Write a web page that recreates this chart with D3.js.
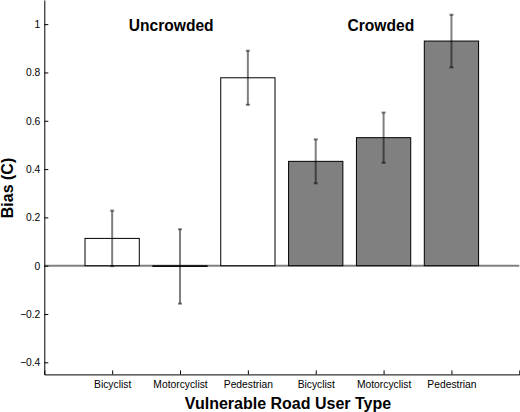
<!DOCTYPE html>
<html>
<head>
<meta charset="utf-8">
<script src="https://cdn.jsdelivr.net/npm/d3@7"></script>
<style>
  html, body { margin: 0; padding: 0; background: #fff; }
  svg { display: block; font-family: "Liberation Sans", Arial, Helvetica, sans-serif; }
</style>
</head>
<body>
<svg id="chart" width="520" height="412"></svg>
<script>
// ---- data ----
const categories = ["Bicyclist", "Motorcyclist", "Pedestrian", "Bicyclist", "Motorcyclist", "Pedestrian"];
const conditions = ["Uncrowded", "Uncrowded", "Uncrowded", "Crowded", "Crowded", "Crowded"];
const biasValues = [0.113, -0.003, 0.778, 0.432, 0.530, 0.930];
const errorValues = [0.115, 0.154, 0.112, 0.091, 0.104, 0.109];
const yTicks = [-0.4, -0.2, 0, 0.2, 0.4, 0.6, 0.8, 1];
const groupLabels = ["Uncrowded", "Crowded"];
const yLabel = "Bias (C)";
const xLabel = "Vulnerable Road User Type";

// ---- layout ----
const svg = d3.select("#chart");
const x = d3.scaleLinear().domain([0, 7]).range([44.3, 519.3]);
const y = d3.scaleLinear().domain([-0.45, 1.1]).range([374.4, 0]);
const barW = 0.8;
const fills = { Uncrowded: "#ffffff", Crowded: "#808080" };
const groupLabelPos = [1.87, 4.96];

// zero line
svg.append("line")
  .attr("x1", x(0)).attr("x2", x(7))
  .attr("y1", y(0)).attr("y2", y(0))
  .attr("stroke", "#808080").attr("stroke-width", 2);

// bars
const idx = d3.range(biasValues.length);
svg.append("g").selectAll("rect").data(idx).join("rect")
  .attr("x", i => x(i + 1 - barW / 2))
  .attr("width", i => x(i + 1 + barW / 2) - x(i + 1 - barW / 2))
  .attr("y", i => y(Math.max(0, biasValues[i])))
  .attr("height", i => Math.max(0.5, Math.abs(y(biasValues[i]) - y(0))))
  .attr("fill", i => fills[conditions[i]])
  .attr("stroke", "#000").attr("stroke-width", 1);

// error bars
const eg = svg.append("g").attr("stroke", "#000").attr("stroke-opacity", 0.5).attr("stroke-width", 2);
idx.forEach(i => {
  const cx = x(i + 1);
  const lo = y(biasValues[i] - errorValues[i]);
  const hi = y(biasValues[i] + errorValues[i]);
  eg.append("line").attr("x1", cx).attr("x2", cx).attr("y1", lo).attr("y2", hi);
  eg.append("line").attr("x1", cx - 2).attr("x2", cx + 2).attr("y1", lo).attr("y2", lo);
  eg.append("line").attr("x1", cx - 2).attr("x2", cx + 2).attr("y1", hi).attr("y2", hi);
});

// axes
const yAxis = d3.axisLeft(y).tickValues(yTicks).tickSize(-4).tickSizeOuter(0).tickPadding(4)
  .tickFormat(d => d === 0 ? "0" : d3.format("")(+d.toFixed(1)).replace("-", "\u2212"));
const yg = svg.append("g").attr("transform", `translate(${x(0)},0)`).call(yAxis);
yg.selectAll("text").attr("font-size", 10.3).attr("fill", "#000").attr("font-family", "Liberation Sans, Arial, sans-serif");
yg.selectAll("line, path").attr("stroke", "#000");

const xAxis = d3.axisBottom(x).tickValues(idx.map(i => i + 1)).tickSize(-4).tickSizeOuter(-4).tickPadding(6)
  .tickFormat((d, k) => categories[k]);
const xg = svg.append("g").attr("transform", `translate(0,${y(-0.45)})`).call(xAxis);
xg.selectAll("text").attr("font-size", 10.3).attr("fill", "#000").attr("font-family", "Liberation Sans, Arial, sans-serif");
xg.selectAll("line, path").attr("stroke", "#000");

// group labels
svg.append("g").selectAll("text").data(groupLabels).join("text")
  .attr("x", (d, k) => x(groupLabelPos[k]))
  .attr("y", 31)
  .attr("text-anchor", "middle")
  .attr("font-weight", "bold")
  .attr("font-size", 15.6)
  .text(d => d);

// axis titles
svg.append("text")
  .attr("transform", "translate(12.5,188) rotate(-90)")
  .attr("text-anchor", "middle").attr("font-weight", "bold").attr("font-size", 16)
  .text(yLabel);
svg.append("text")
  .attr("x", 288).attr("y", 409)
  .attr("text-anchor", "middle").attr("font-weight", "bold").attr("font-size", 16)
  .text(xLabel);
</script>
</body>
</html>
